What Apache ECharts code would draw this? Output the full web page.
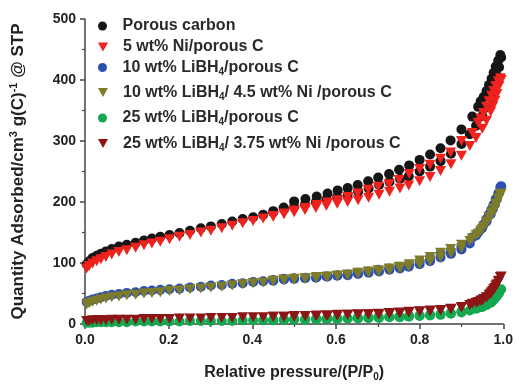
<!DOCTYPE html>
<html>
<head>
<meta charset="utf-8">
<script src="https://cdn.jsdelivr.net/npm/echarts@6/dist/echarts.min.js"></script>
<style>html,body{margin:0;padding:0;background:#fff}#c{width:516px;height:387px}</style>
</head>
<body>
<div id="c"></div>
<script>
// Relative pressures of adsorption points (P/P0)
const adsP = [0.004,0.01,0.018,0.028,0.038,0.05,0.064,0.081,0.1,0.121,0.141,0.16,0.18,0.202,0.226,0.251,0.277,0.301,0.327,0.352,0.377,0.402,0.426,0.45,0.476,0.5,0.526,0.552,0.577,0.603,0.628,0.653,0.678,0.703,0.728,0.753,0.774,0.8,0.825,0.85,0.875,0.9,0.92,0.935,0.95,0.96,0.97,0.975,0.98,0.985,0.99,0.995];
// Relative pressures of desorption points (P/P0)
const desP = [0.993,0.988,0.982,0.977,0.972,0.966,0.96,0.953,0.946,0.94,0.926,0.9,0.874,0.85,0.825,0.8,0.775,0.751,0.727,0.701,0.677,0.652,0.628,0.604,0.58,0.554,0.527,0.5,0.475,0.45];

const seriesNames = ['Porous carbon','5 wt% Ni/porous C','10 wt% LiBH4/porous C','10 wt% LiBH4/ 4.5 wt% Ni /porous C','25 wt% LiBH4/porous C','25 wt% LiBH4/ 3.75 wt% Ni /porous C'];

// Porous carbon
const carbonAds = [98,103,108,112,115,119,123,127,130,133,137,140,143,146,149,153,157,160,164,168,172,175,179,183,188,192,196,200,204,208,212,217,222,228,233,238,242,250,258,267,279,295,311,325,341,355,371,381,393,407,421,437];
const carbonDes = [441,432,422,412,402,392,382,372,365,356,340,319,301,288,278,269,260,253,246,240,234,228,223,219,214,209,205,201,191,185];
// 5 wt% Ni/porous C
const niAds = [91,95,99,103,106,110,114,118,121,125,129,132,135,139,143,146,150,153,157,161,165,169,173,176,180,183,187,190,194,197,200,203,207,212,217,222,227,234,241,251,262,276,292,305,320,333,348,357,366,377,390,400];
const niDes = [403,398,390,382,374,365,356,346,337,330,313,300,281,271,261,254,246,236,229,225,220,214,208,203,199,195,190,186,181,177];
// 10 wt% LiBH4/porous C
const li10Ads = [36,38,40,42,44,46,48,49,51,52,54,55,56,57,58,60,61,63,64,66,67,69,70,71,73,74,75,76,78,79,80,82,84,86,89,91,94,98,103,109,115,122,132,145,158,168,180,188,196,205,215,226];
const li10Des = [224,214,205,196,188,180,172,163,155,150,142,127,120,115,109,103,97,94,91,89,86,84,81,80,78,77,76,75,74,72];
// 10 wt% LiBH4/ 4.5 wt% Ni /porous C
const li10NiAds = [32,34,36,38,40,42,44,45,47,48,50,51,52,54,55,57,58,60,61,63,65,67,68,70,72,73,74,76,77,79,80,82,84,86,88,91,94,98,103,109,116,124,136,146,156,165,176,183,190,198,206,214];
const li10NiDes = [212,205,197,189,182,175,168,160,153,148,140,130,123,117,110,104,98,94,91,88,86,84,81,79,78,77,75,74,73,71];
// 25 wt% LiBH4/porous C
const li25Ads = [2,2,2,3,3,3,3,3,3,4,4,4,4,4,4,5,5,5,5,5,6,6,6,6,7,7,7,8,8,8,9,9,10,10,11,11,12,13,14,15,17,19,22,25,28,31,35,38,42,46,51,57];
const li25Des = [56,50,45,41,37,34,32,30,28,27,25,21,18,16,15,14,13,12,12,11,10,10,9,9,9,8,8,8,7,7];
// 25 wt% LiBH4/ 3.75 wt% Ni /porous C
const li25NiAds = [5,5,6,6,6,6,7,7,7,7,8,8,8,8,9,9,9,10,10,10,11,11,11,12,12,12,13,13,14,14,15,15,16,16,17,18,19,20,21,22,24,27,31,35,39,44,50,54,59,65,71,78];
const li25NiDes = [77,70,63,57,52,48,44,41,38,36,33,28,25,23,22,21,20,19,18,17,16,16,15,15,14,14,13,13,12,12];

const xTicks = ['0.0','0.2','0.4','0.6','0.8','1.0'];

const colors = ['#161616','#f0221e','#2c4fb4','#7d7c2a','#14a850','#8c1515'];
const down = 'path://M0,0L10,0L5,9Z';
const symbols = ['circle', down, 'circle', down, 'circle', down];
const adsAll = [carbonAds, niAds, li10Ads, li10NiAds, li25Ads, li25NiAds];
const desAll = [carbonDes, niDes, li10Des, li10NiDes, li25Des, li25NiDes];

function pairs(ps, vs){ return ps.map((p,i)=>[p, vs[i]]); }

const labelFmt = n => n.replace(/LiBH4/g, 'LiBH{sub|4}');
const rich = { sub: { fontSize: 10, fontWeight: 'bold', color: '#2a2a2a', fontFamily: 'Liberation Sans', padding: [9,0,0,0], verticalAlign: 'top' } };

const series = seriesNames.map((name, i) => ({
  name: name,
  type: 'scatter',
  symbol: symbols[i],
  symbolSize: symbols[i] === 'circle' ? 10 : [11, 10],
  itemStyle: { color: colors[i], opacity: 1 },
  data: pairs(adsP, adsAll[i]).concat(pairs(desP, desAll[i])),
  z: 2 + i
}));

const rowY = [24, 45, 65.5, 90.5, 116, 141.5];
const legends = seriesNames.map((name, i) => ({
  data: [{ name: name, icon: symbols[i] }],
  left: 93,
  top: rowY[i] - 11,
  itemWidth: 30,
  itemHeight: 9,
  orient: 'vertical',
  selectedMode: false,
  formatter: labelFmt,
  textStyle: { fontSize: 16, fontWeight: 'bold', color: '#2a2a2a', fontFamily: 'Liberation Sans', rich: rich }
}));

const axisTxt = { fontSize: 14, fontWeight: 'bold', color: '#222', fontFamily: 'Liberation Sans' };
const chart = echarts.init(document.getElementById('c'), null, { renderer: 'canvas' });
chart.setOption({
  animation: false,
  backgroundColor: '#fff',
  grid: { left: 84, right: 11, top: 19, bottom: 55, containLabel: false },
  legend: legends,
  xAxis: {
    type: 'value', min: 0, max: 1, interval: 0.2,
    name: 'Relative pressure/(P/P{sub|0})',
    nameLocation: 'middle', nameGap: 39,
    nameTextStyle: { fontSize: 16, fontWeight: 'bold', color: '#222', fontFamily: 'Liberation Sans',
      rich: { sub: { fontSize: 10, fontWeight: 'bold', color: '#222', fontFamily: 'Liberation Sans', padding: [9,0,0,0], verticalAlign: 'top' } } },
    axisLine: { show: true, onZero: false, lineStyle: { color: '#444', width: 1.5 } },
    axisTick: { show: true, inside: false, length: 5, lineStyle: { color: '#444', width: 1.5 } },
    minorTick: { show: true, splitNumber: 2, length: 3, lineStyle: { color: '#444', width: 1.2 } },
    splitLine: { show: false },
    axisLabel: Object.assign({ margin: 9, formatter: (v) => xTicks[Math.round(v / 0.2)] }, axisTxt)
  },
  yAxis: {
    type: 'value', min: 0, max: 500, interval: 100,
    name: 'Quantity Adsorbed/cm{sup|3} g(C){sup|-1} @ STP',
    nameLocation: 'middle', nameGap: 57, nameRotate: 90,
    nameTextStyle: { fontSize: 17, fontWeight: 'bold', color: '#222', fontFamily: 'Liberation Sans',
      rich: { sup: { fontSize: 11, fontWeight: 'bold', color: '#222', fontFamily: 'Liberation Sans', padding: [0,0,9,0], verticalAlign: 'top' } } },
    axisLine: { show: true, onZero: false, lineStyle: { color: '#444', width: 1.5 } },
    axisTick: { show: true, inside: false, length: 5, lineStyle: { color: '#444', width: 1.5 } },
    minorTick: { show: true, splitNumber: 2, length: 3, lineStyle: { color: '#444', width: 1.2 } },
    splitLine: { show: false },
    axisLabel: Object.assign({ margin: 9 }, axisTxt)
  },
  series: series
});
</script>
</body>
</html>
